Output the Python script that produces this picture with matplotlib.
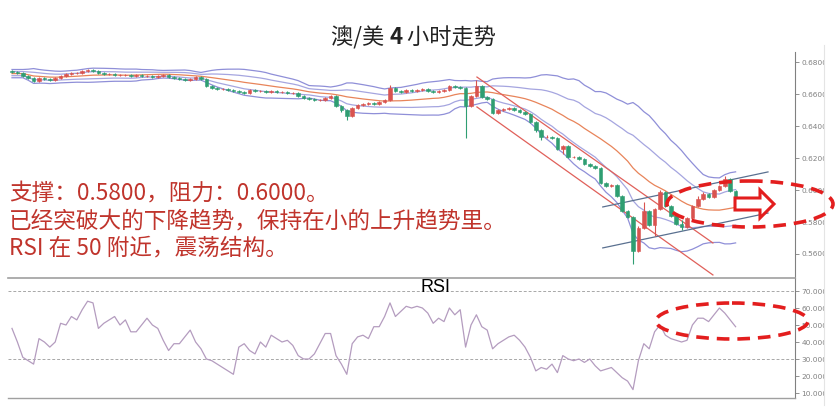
import numpy as np
import pandas as pd
import matplotlib
matplotlib.use("Agg")
import matplotlib.pyplot as plt
from matplotlib.patches import Ellipse, Polygon, Rectangle

# ---------------- data ----------------
title_parts = ["澳/美 ", "4", " 小时走势"]
notes = ["支撑：0.5800，阻力：0.6000。",
         "已经突破大的下降趋势，保持在小的上升趋势里。",
         "RSI 在 50 附近，震荡结构。"]
rsi_label = "RSI"

first_open = 0.6744
closes = [0.6738, 0.6731, 0.6713, 0.6700, 0.6681, 0.6700, 0.6694, 0.6688, 0.6700, 0.6713,
          0.6725, 0.6731, 0.6731, 0.6744, 0.6750, 0.6744, 0.6731, 0.6725, 0.6725, 0.6719,
          0.6719, 0.6719, 0.6713, 0.6719, 0.6713, 0.6713, 0.6706, 0.6713, 0.6719, 0.6706,
          0.6700, 0.6694, 0.6688, 0.6694, 0.6706, 0.6694, 0.6650, 0.6638, 0.6631, 0.6631,
          0.6625, 0.6619, 0.6613, 0.6606, 0.6625, 0.6619, 0.6619, 0.6613, 0.6619, 0.6613,
          0.6613, 0.6606, 0.6606, 0.6588, 0.6575, 0.6569, 0.6563, 0.6563, 0.6575, 0.6588,
          0.6525, 0.6500, 0.6463, 0.6513, 0.6531, 0.6538, 0.6544, 0.6538, 0.6550, 0.6563,
          0.6638, 0.6619, 0.6613, 0.6625, 0.6619, 0.6625, 0.6631, 0.6619, 0.6613, 0.6619,
          0.6625, 0.6650, 0.6644, 0.6638, 0.6525, 0.6588, 0.6650, 0.6581, 0.6569, 0.6481,
          0.6500, 0.6506, 0.6513, 0.6500, 0.6488, 0.6475, 0.6425, 0.6375, 0.6331, 0.6331,
          0.6325, 0.6256, 0.6275, 0.6206, 0.6206, 0.6194, 0.6163, 0.6150, 0.6138, 0.6044,
          0.6025, 0.6031, 0.5963, 0.5869, 0.5831, 0.5619, 0.5763, 0.5869, 0.5781, 0.5881,
          0.5988, 0.5900, 0.5838, 0.5788, 0.5769, 0.5825, 0.5900, 0.5944, 0.5975, 0.5956,
          0.6000, 0.6025, 0.6069, 0.5994, 0.5944]
highs = [0.6750, 0.6744, 0.6738, 0.6719, 0.6706, 0.6706, 0.6706, 0.6700, 0.6706, 0.6719,
         0.6731, 0.6738, 0.6738, 0.6750, 0.6756, 0.6756, 0.6750, 0.6738, 0.6731, 0.6731,
         0.6725, 0.6725, 0.6725, 0.6725, 0.6725, 0.6719, 0.6719, 0.6719, 0.6725, 0.6725,
         0.6713, 0.6706, 0.6700, 0.6700, 0.6713, 0.6713, 0.6700, 0.6656, 0.6644, 0.6638,
         0.6638, 0.6631, 0.6625, 0.6619, 0.6631, 0.6631, 0.6625, 0.6625, 0.6625, 0.6625,
         0.6619, 0.6619, 0.6613, 0.6613, 0.6594, 0.6581, 0.6575, 0.6569, 0.6581, 0.6594,
         0.6594, 0.6531, 0.6506, 0.6519, 0.6538, 0.6544, 0.6550, 0.6550, 0.6556, 0.6569,
         0.6656, 0.6644, 0.6625, 0.6631, 0.6631, 0.6631, 0.6638, 0.6638, 0.6625, 0.6625,
         0.6631, 0.6656, 0.6656, 0.6650, 0.6644, 0.6594, 0.6688, 0.6656, 0.6588, 0.6575,
         0.6506, 0.6513, 0.6519, 0.6519, 0.6506, 0.6494, 0.6481, 0.6431, 0.6381, 0.6344,
         0.6338, 0.6331, 0.6281, 0.6281, 0.6213, 0.6213, 0.6200, 0.6169, 0.6156, 0.6144,
         0.6050, 0.6038, 0.6038, 0.5969, 0.5875, 0.5838, 0.5775, 0.5925, 0.5875, 0.5888,
         0.6000, 0.5994, 0.5906, 0.5844, 0.5813, 0.5831, 0.5906, 0.5963, 0.5988, 0.5981,
         0.6006, 0.6031, 0.6088, 0.6075, 0.6000]
lows = [0.6731, 0.6725, 0.6706, 0.6694, 0.6675, 0.6675, 0.6688, 0.6681, 0.6681, 0.6694,
        0.6706, 0.6719, 0.6725, 0.6725, 0.6738, 0.6738, 0.6725, 0.6719, 0.6719, 0.6713,
        0.6713, 0.6713, 0.6706, 0.6706, 0.6706, 0.6706, 0.6700, 0.6700, 0.6706, 0.6700,
        0.6694, 0.6688, 0.6681, 0.6681, 0.6688, 0.6688, 0.6644, 0.6631, 0.6625, 0.6625,
        0.6619, 0.6613, 0.6606, 0.6600, 0.6600, 0.6613, 0.6613, 0.6606, 0.6606, 0.6606,
        0.6606, 0.6600, 0.6600, 0.6581, 0.6569, 0.6563, 0.6556, 0.6556, 0.6556, 0.6569,
        0.6519, 0.6488, 0.6438, 0.6456, 0.6506, 0.6525, 0.6531, 0.6531, 0.6531, 0.6544,
        0.6556, 0.6613, 0.6606, 0.6606, 0.6613, 0.6613, 0.6619, 0.6613, 0.6606, 0.6606,
        0.6613, 0.6619, 0.6638, 0.6631, 0.6325, 0.6519, 0.6581, 0.6575, 0.6563, 0.6475,
        0.6475, 0.6494, 0.6500, 0.6494, 0.6481, 0.6469, 0.6419, 0.6363, 0.6313, 0.6325,
        0.6319, 0.6250, 0.6225, 0.6200, 0.6200, 0.6188, 0.6156, 0.6144, 0.6131, 0.6038,
        0.6019, 0.6019, 0.5956, 0.5863, 0.5825, 0.5538, 0.5613, 0.5756, 0.5775, 0.5713,
        0.5875, 0.5894, 0.5831, 0.5781, 0.5750, 0.5763, 0.5819, 0.5894, 0.5938, 0.5950,
        0.5950, 0.5994, 0.6019, 0.5988, 0.5938]
rsi = [48, 40, 31, 29, 27, 42, 40, 37, 40, 51,
       50, 55, 53, 59, 64, 63, 48, 51, 53, 55,
       50, 53, 46, 46, 50, 54, 50, 48, 41, 35,
       39, 39, 43, 47, 40, 36, 30, 29, 27, 25,
       23, 21, 37, 39, 35, 33, 40, 37, 44, 42,
       40, 41, 38, 32, 30, 30, 33, 39, 45, 45,
       32, 27, 21, 39, 43, 44, 42, 49, 49, 55,
       63, 55, 58, 61, 60, 61, 60, 57, 51, 54,
       52, 60, 56, 59, 37, 50, 56, 49, 47, 36,
       39, 41, 43, 44, 41, 37, 31, 23, 25, 24,
       27, 22, 32, 30, 29, 30, 28, 30, 26, 23,
       24, 25, 22, 19, 17, 12, 29, 39, 36, 46,
       50, 44, 42, 41, 40, 41, 50, 54, 54, 52,
       56, 60, 57, 53, 49]

price_ticks = [0.56, 0.58, 0.60, 0.62, 0.64, 0.66, 0.68]
rsi_ticks = [10, 20, 30, 40, 50, 60, 70]
rsi_levels = [30, 70]

# trend channels: (bar index, price) endpoints
down_upper = ([86.1, 129.8], [0.6706, 0.5669])
down_lower = ([86.1, 129.8], [0.6519, 0.5469])
up_upper = ([109.4, 140.0], [0.5894, 0.6113])
up_lower = ([109.4, 140.0], [0.5638, 0.5856])

# ---------------- figure ----------------
W, H = 838, 413
fig = plt.figure(figsize=(W / 100, H / 100), dpi=100)
fig.patch.set_facecolor("white")

def frac(x0, y0, x1, y1):
    return [x0 / W, 1 - y1 / H, (x1 - x0) / W, (y1 - y0) / H]

ax1 = fig.add_axes(frac(8, 52, 795, 278))
ax2 = fig.add_axes(frac(8, 278, 795, 398))

N = len(closes)
idx = np.arange(N)
opens = [first_open] + closes[:-1]

UP = "#d9534f"
DOWN = "#2f9e72"
for i in range(N):
    o, c = opens[i], closes[i]
    col = UP if c >= o else DOWN
    ax1.vlines(i, lows[i], highs[i], color=col, lw=0.8, zorder=3)
    body = max(abs(c - o), 0.00022)
    ax1.bar(i, body, bottom=min(o, c), width=0.66, color=col, edgecolor=col,
            lw=0.4, zorder=4)

s = pd.Series(closes)
ma = s.rolling(20, min_periods=3).mean().bfill()
sd = s.rolling(20, min_periods=3).std().bfill()
ax1.plot(idx, ma, color="#e8845a", lw=0.9, zorder=2)
for k, a in [(2, 1.0), (1, 0.8)]:
    ax1.plot(idx, ma + k * sd, color="#8f8fd8", lw=0.9, alpha=a, zorder=2)
    ax1.plot(idx, ma - k * sd, color="#8f8fd8", lw=0.9, alpha=a, zorder=2)

for xs, ys in [down_upper, down_lower]:
    ax1.plot(xs, ys, color="#e0605a", lw=0.9, zorder=2)
for xs, ys in [up_upper, up_lower]:
    ax1.plot(xs, ys, color="#5a7090", lw=0.9, zorder=2)

xl = (-0.74, 145.0)
ax1.set_xlim(*xl)
ax1.set_ylim(0.5450, 0.68625)
ax2.set_xlim(*xl)
ax2.set_ylim(7.06, 77.65)

for ax in (ax1, ax2):
    ax.yaxis.tick_right()
    ax.set_xticks([])
    for sp in ax.spines.values():
        sp.set_visible(False)
    ax.spines["right"].set_visible(True)
    ax.spines["right"].set_color("#808080")
    ax.tick_params(axis="y", direction="out", length=3, width=0.6, colors="#808080",
                   labelsize=5.3, pad=1.5)
    ax.set_facecolor("none")

ax1.set_yticks(price_ticks)
ax1.set_yticklabels([f"{t:.4f}" for t in price_ticks])
ax2.set_yticks(rsi_ticks)
ax2.set_yticklabels([f"{t:.4f}" for t in rsi_ticks])
ax2.spines["top"].set_visible(True)
ax2.spines["bottom"].set_visible(True)
ax2.spines["top"].set_color("#a0a0a0")
ax2.spines["bottom"].set_color("#a0a0a0")
ax2.spines["top"].set_linewidth(1.2)
ax2.spines["bottom"].set_linewidth(1.0)

for lv in rsi_levels:
    ax2.axhline(lv, color="#a8a8a8", lw=0.7, ls=(0, (3, 2)), zorder=1)
ax2.plot(idx, rsi, color="#b49cbf", lw=0.9, zorder=3)

# ---------------- overlay (pixel coordinates) ----------------
ov = fig.add_axes([0, 0, 1, 1], zorder=10)
ov.set_xlim(0, W)
ov.set_ylim(H, 0)
ov.axis("off")
ov.patch.set_alpha(0)

ov.add_patch(Rectangle((824, 0), 14, H, facecolor="white", edgecolor="none", zorder=1))
ov.plot([824, 824], [45, 405], color="#e4e4e4", lw=0.8, zorder=1)

# title with bold "4"
fam = ["Noto Sans CJK SC", "DejaVu Sans"]
t0 = ov.text(331, 38, title_parts[0], ha="left", va="center", fontsize=16,
             color="#222222", family=fam)
t1 = ov.annotate(title_parts[1], xycoords=t0, xy=(1, 0.5), va="center", ha="left",
                 fontsize=16, color="#222222", family=fam, fontweight="bold")
ov.annotate(title_parts[2], xycoords=t1, xy=(1, 0.5), va="center", ha="left",
            fontsize=16, color="#222222", family=fam)

RED_TXT = "#c0342c"
for k, line in enumerate(notes):
    ov.text(9, 193 + 27.5 * k, line, ha="left", va="center", fontsize=16.3,
            color=RED_TXT, family=fam)

ov.text(420, 288, rsi_label, ha="left", va="center", fontsize=13, color="black",
        family=["Liberation Sans", "DejaVu Sans"])

RED = "#e31e1e"
ov.add_patch(Ellipse((750, 204), 166, 46, fill=False, edgecolor=RED, lw=2.6,
                     ls=(0, (3.5, 2.2)), zorder=5))
ov.add_patch(Ellipse((732, 321), 152, 36, fill=False, edgecolor=RED, lw=2.6,
                     ls=(0, (3.5, 2.2)), zorder=5))
arrow = [(735, 198), (760, 198), (760, 190), (774, 204), (760, 218), (760, 210), (735, 210)]
ov.add_patch(Polygon(arrow, closed=True, facecolor="white", edgecolor=RED, lw=2.2,
                     joinstyle="miter", zorder=6))

fig.savefig("out.png", dpi=100, facecolor="white")
